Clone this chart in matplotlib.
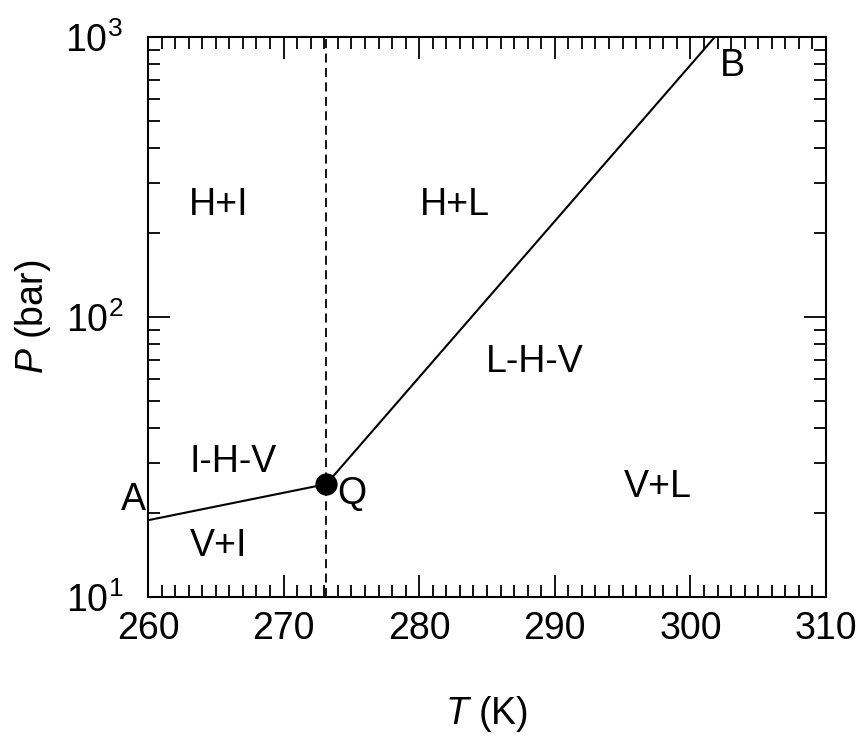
import numpy as np
import matplotlib.pyplot as plt
from matplotlib.ticker import MultipleLocator, LogLocator, NullFormatter

plt.rcParams['font.family'] = ['Liberation Sans', 'DejaVu Sans']
plt.rcParams['mathtext.fontset'] = 'custom'
plt.rcParams['mathtext.rm'] = 'Liberation Sans'
plt.rcParams['mathtext.it'] = 'Liberation Sans:italic'

# data: three-phase line A-Q-B (T in K, P in bar)
line_T = [260.0, 273.15, 301.8]
line_P = [18.8, 25.3, 1000.0]
q_T = 273.15
q_P = 25.3

# region labels
region_names = ['H+I', 'H+L', 'L-H-V', 'I-H-V', 'V+I', 'V+L']
region_T = [265.2, 282.6, 288.5, 266.3, 265.2, 297.6]
region_P = [251, 251, 69, 30.3, 15.2, 24.7]

point_names = ['A', 'Q', 'B']
point_T = [258.9, 275.0, 303.1]
point_P = [22.2, 23.3, 790]

fs = 27

fig = plt.figure(figsize=(8.61, 7.36), dpi=100)
ax = fig.add_axes([148/861, 1-597/736, (826-148)/861, (597-37)/736])

ax.set_yscale('log')
ax.set_xlim(260, 310)
ax.set_ylim(10, 1000)

# lines
ax.plot(line_T, line_P, color='black', lw=1.5)
ax.axvline(q_T, color='black', lw=1.3, ls=(0, (5, 3)))
ax.plot([q_T], [q_P], 'o', color='black', ms=15, zorder=5)

for name, t, p in zip(region_names, region_T, region_P):
    ax.text(t, p, name, fontsize=fs, ha='center', va='center')
for name, t, p in zip(point_names, point_T, point_P):
    ax.text(t, p, name, fontsize=fs, ha='center', va='center')

# ticks
ax.xaxis.set_major_locator(MultipleLocator(10))
ax.xaxis.set_minor_locator(MultipleLocator(1))
ax.yaxis.set_major_locator(LogLocator(base=10, numticks=10))
ax.yaxis.set_minor_locator(LogLocator(base=10, subs=np.arange(2, 10), numticks=10))
ax.yaxis.set_minor_formatter(NullFormatter())
ax.tick_params(which='both', direction='in', top=True, right=True, width=1.3, labelsize=fs)
ax.tick_params(which='major', length=16)
ax.tick_params(which='minor', length=8.5)
ax.tick_params(axis='x', which='major', pad=10)
ax.tick_params(axis='y', which='major', pad=18)
for s in ax.spines.values():
    s.set_linewidth(1.5)

ax.set_xlabel(r'$\it{T}$ (K)', fontsize=fs, labelpad=34)
ax.set_ylabel(r'$\it{P}$ (bar)', fontsize=fs, labelpad=9)

fig.savefig('out.png', dpi=100)
